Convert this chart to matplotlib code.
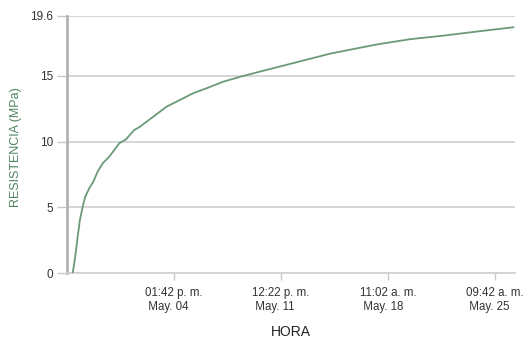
import numpy as np
import pandas as pd
import matplotlib
matplotlib.use("Agg")
import matplotlib.pyplot as plt
import matplotlib.transforms as mtransforms

plt.rcParams['font.family'] = ['Liberation Sans', 'DejaVu Sans']

# --- datos ---
inicio = "2023-04-28 00:00"
# horas transcurridas desde el inicio
horas = [
    0.0, 3.9, 7.7, 11.2, 15.5, 19.5, 25.7, 32.0, 38.8, 46.6,
    56.9, 64.7, 72.5, 82.9, 95.8, 104.7, 125.4, 146.3, 167.0, 187.7,
    208.6, 234.5, 265.2, 296.8, 348.8, 400.7, 473.4, 525.3, 577.1, 629.1,
    686.2,
]
resistencia = [
    0.0, 1.24, 2.76, 4.04, 5.05, 5.81, 6.45, 6.95, 7.72, 8.35,
    8.86, 9.37, 9.88, 10.18, 10.89, 11.14, 11.9, 12.67, 13.18, 13.69,
    14.07, 14.57, 15.0, 15.4, 16.05, 16.7, 17.4, 17.8, 18.07, 18.38,
    18.71,
]

y_ticks = [0, 5, 10, 15, 19.6]
y_tick_labels = ["0", "5", "10", "15", "19.6"]
x_ticks = ["2023-05-04 13:42", "2023-05-11 12:22", "2023-05-18 11:02", "2023-05-25 09:42"]
x_tick_labels = ["01:42 p. m.\n May. 04", "12:22 p. m.\n May. 11",
                 "11:02 a. m.\n May. 18", "09:42 a. m.\n May. 25"]
x_lim = ["2023-04-27 15:02", "2023-05-26 16:54"]

t = pd.Timestamp(inicio) + pd.to_timedelta(horas, unit="h")

fig = plt.figure(figsize=(5.23, 3.38), dpi=100)
ax = fig.add_axes([0.128, 0.192, 0.857, 0.762])

ax.plot(t, resistencia, color="#6b9a78", lw=1.3, zorder=3)

ax.set_ylim(0, 19.6)
ax.set_xlim(pd.to_datetime(x_lim[0]), pd.to_datetime(x_lim[1]))
ax.set_yticks(y_ticks)
ax.set_yticklabels(y_tick_labels)
ax.set_xticks(pd.to_datetime(x_ticks))
ax.set_xticklabels(x_tick_labels, multialignment="left")

# etiquetas del eje x un poco a la izquierda de la marca
offset = mtransforms.ScaledTranslation(-3 / 100, 0, fig.dpi_scale_trans)
for lbl in ax.get_xticklabels():
    lbl.set_transform(lbl.get_transform() + offset)

ax.grid(axis="y", color="#cfcfcf", lw=1.2)
ax.set_axisbelow(True)
for s in ["top", "right"]:
    ax.spines[s].set_visible(False)
ax.spines["left"].set_color("#b3b3b3")
ax.spines["left"].set_linewidth(2)
ax.spines["bottom"].set_color("#cfcfcf")
ax.spines["bottom"].set_linewidth(1.2)

ax.tick_params(axis="y", length=7, width=1, color="#c8c8c8", pad=3,
               labelsize=8.5, labelcolor="#333333")
ax.tick_params(axis="x", length=5, width=1, color="#c8c8c8", pad=5,
               labelsize=8.3, labelcolor="#333333")

ax.set_ylabel("RESISTENCIA (MPa)", color="#4f8560", fontsize=9)
ax.yaxis.set_label_coords(-0.100, 0.49)
ax.set_xlabel("HORA", color="#222222", fontsize=10, labelpad=9)

plt.savefig("out.png", dpi=100)
